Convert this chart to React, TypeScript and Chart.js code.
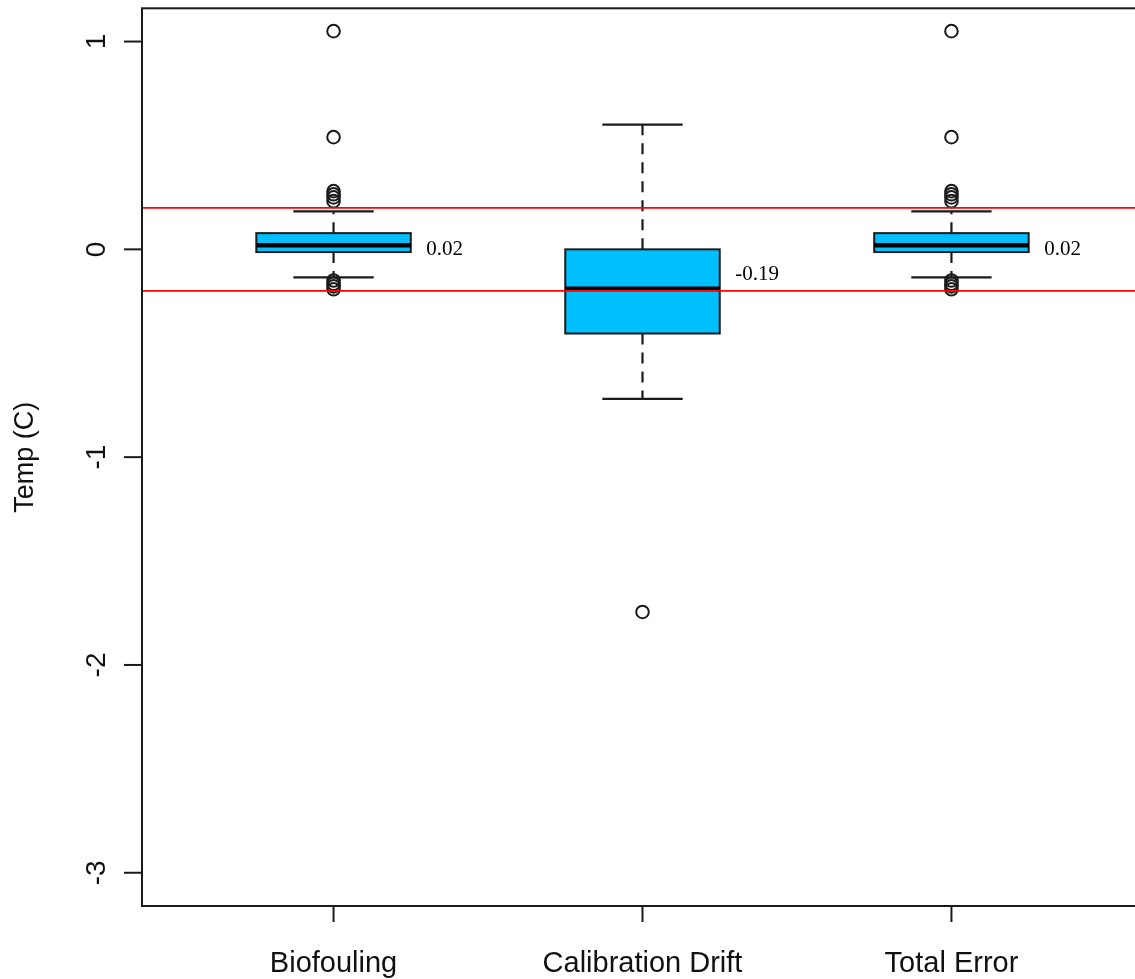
import React, { useEffect, useRef } from "react";
import { Chart, registerables } from "chart.js";

Chart.register(...registerables);

// Box-and-whisker summaries per group
const categories = ["Biofouling", "Calibration Drift", "Total Error"];
const lowerWhisker = [-0.135, -0.72, -0.135];
const q1 = [-0.013, -0.405, -0.013];
const medians = [0.02, -0.19, 0.02];
const q3 = [0.078, 0.0, 0.078];
const upperWhisker = [0.183, 0.6, 0.183];

// Points beyond the whiskers
const outliersBiofouling = [1.05, 0.54, 0.28, 0.265, 0.25, 0.232, -0.15, -0.165, -0.178, -0.192];
const outliersCalibration = [-1.745];
const outliersTotalError = [1.05, 0.54, 0.28, 0.265, 0.25, 0.232, -0.15, -0.165, -0.178, -0.192];

// Tolerance band (±0.2 °C)
const thresholds = [0.2, -0.2];

// Axis ticks
const yTicks = [1, 0, -1, -2, -3];

// Vertical anchors for the median annotations
const labelY = [0.0, -0.12, 0.0];

const X_MIN = 0.38;
const X_MAX = 3.62;
const Y_MIN = -3.16;
const Y_MAX = 1.16;

const SANS = "'Liberation Sans', Arial, Helvetica, sans-serif";
const SERIF = "'Liberation Serif', 'Times New Roman', Times, serif";
const INK = "#1a1a1a";

const boxPlugin = {
  id: "rBoxplot",
  beforeDatasetsDraw(chart: any) {
    const { ctx, chartArea, scales } = chart;
    const xs = scales.x;
    const ys = scales.y;
    ctx.save();
    ctx.beginPath();
    ctx.rect(chartArea.left, chartArea.top, chartArea.right - chartArea.left, chartArea.bottom - chartArea.top);
    ctx.clip();

    categories.forEach((_, i) => {
      const pos = i + 1;
      const cx = xs.getPixelForValue(pos);
      const bl = xs.getPixelForValue(pos - 0.25);
      const br = xs.getPixelForValue(pos + 0.25);
      const sl = xs.getPixelForValue(pos - 0.13);
      const sr = xs.getPixelForValue(pos + 0.13);
      const yQ1 = ys.getPixelForValue(q1[i]);
      const yQ3 = ys.getPixelForValue(q3[i]);
      const yMed = ys.getPixelForValue(medians[i]);
      const yLo = ys.getPixelForValue(lowerWhisker[i]);
      const yHi = ys.getPixelForValue(upperWhisker[i]);

      // whiskers
      ctx.strokeStyle = INK;
      ctx.lineWidth = 2.2;
      ctx.setLineDash([11, 8]);
      ctx.beginPath();
      ctx.moveTo(cx, yQ3);
      ctx.lineTo(cx, yHi);
      ctx.moveTo(cx, yQ1);
      ctx.lineTo(cx, yLo);
      ctx.stroke();
      ctx.setLineDash([]);

      // staples
      ctx.beginPath();
      ctx.moveTo(sl, yHi);
      ctx.lineTo(sr, yHi);
      ctx.moveTo(sl, yLo);
      ctx.lineTo(sr, yLo);
      ctx.stroke();

      // box
      ctx.fillStyle = "#00BFFF";
      ctx.fillRect(bl, yQ3, br - bl, yQ1 - yQ3);
      ctx.lineWidth = 2;
      ctx.strokeRect(bl, yQ3, br - bl, yQ1 - yQ3);

      // median
      ctx.lineWidth = 4.5;
      ctx.strokeStyle = "#000";
      ctx.beginPath();
      ctx.moveTo(bl, yMed);
      ctx.lineTo(br, yMed);
      ctx.stroke();
    });
    ctx.restore();
  },
  afterDatasetsDraw(chart: any) {
    const { ctx, chartArea, scales } = chart;
    const xs = scales.x;
    const ys = scales.y;
    ctx.save();

    // median annotations
    ctx.fillStyle = "#000";
    ctx.font = `21px ${SERIF}`;
    ctx.textAlign = "left";
    ctx.textBaseline = "middle";
    categories.forEach((_, i) => {
      const x = xs.getPixelForValue(i + 1 + 0.3);
      const y = ys.getPixelForValue(labelY[i]);
      ctx.fillText(medians[i].toFixed(2), x, y);
    });

    // plot frame
    ctx.strokeStyle = INK;
    ctx.lineWidth = 2;
    ctx.strokeRect(chartArea.left, chartArea.top, chartArea.right - chartArea.left, chartArea.bottom - chartArea.top);

    // y axis ticks and rotated labels
    ctx.lineWidth = 2;
    ctx.font = `28px ${SANS}`;
    ctx.fillStyle = "#111";
    yTicks.forEach((v) => {
      const y = ys.getPixelForValue(v);
      ctx.beginPath();
      ctx.moveTo(chartArea.left - 18, y);
      ctx.lineTo(chartArea.left, y);
      ctx.stroke();
      ctx.save();
      ctx.translate(chartArea.left - 37, y);
      ctx.rotate(-Math.PI / 2);
      ctx.textAlign = "center";
      ctx.textBaseline = "alphabetic";
      ctx.fillText(String(v), 0, 0);
      ctx.restore();
    });

    // y axis title
    ctx.save();
    ctx.font = `27px ${SANS}`;
    ctx.translate(33, (chartArea.top + chartArea.bottom) / 2);
    ctx.rotate(-Math.PI / 2);
    ctx.textAlign = "center";
    ctx.textBaseline = "alphabetic";
    ctx.fillText("Temp (C)", 0, 0);
    ctx.restore();

    // x axis ticks and category labels
    ctx.font = `29px ${SANS}`;
    ctx.textAlign = "center";
    ctx.textBaseline = "alphabetic";
    categories.forEach((name, i) => {
      const x = xs.getPixelForValue(i + 1);
      ctx.beginPath();
      ctx.moveTo(x, chartArea.bottom);
      ctx.lineTo(x, chartArea.bottom + 16);
      ctx.stroke();
      ctx.fillText(name, x, 972);
    });

    ctx.restore();
  },
};

function toPoints(pos: number, values: number[]) {
  return values.map((v) => ({ x: pos, y: v }));
}

export default function App() {
  const canvasRef = useRef<HTMLCanvasElement | null>(null);

  useEffect(() => {
    const canvas = canvasRef.current;
    if (!canvas) return;

    const outlierPoints = [
      ...toPoints(1, outliersBiofouling),
      ...toPoints(2, outliersCalibration),
      ...toPoints(3, outliersTotalError),
    ];

    const thresholdSets = thresholds.map((t) => ({
      type: "line" as const,
      data: [
        { x: X_MIN, y: t },
        { x: X_MAX, y: t },
      ],
      borderColor: "#ff0000",
      borderWidth: 1.8,
      pointRadius: 0,
      showLine: true,
      order: 0,
    }));

    const chart = new Chart(canvas, {
      type: "scatter",
      data: {
        datasets: [
          ...thresholdSets,
          {
            type: "scatter" as const,
            data: outlierPoints,
            pointStyle: "circle",
            pointRadius: 6.3,
            borderWidth: 2,
            borderColor: INK,
            backgroundColor: "rgba(0,0,0,0)",
            order: 1,
          },
        ] as any,
      },
      options: {
        responsive: false,
        animation: false,
        events: [],
        layout: { padding: { left: 142, top: 8, right: 17, bottom: 73 } },
        scales: {
          x: { type: "linear", min: X_MIN, max: X_MAX, display: false },
          y: { type: "linear", min: Y_MIN, max: Y_MAX, display: false },
        },
        plugins: {
          legend: { display: false },
          tooltip: { enabled: false },
        },
      },
      plugins: [boxPlugin],
    });

    return () => chart.destroy();
  }, []);

  return (
    <div
      style={{
        position: "fixed",
        left: 0,
        top: 0,
        width: 1135,
        height: 979,
        overflow: "hidden",
        background: "#fff",
      }}
    >
      <canvas ref={canvasRef} width={1160} height={979} style={{ display: "block" }} />
    </div>
  );
}
